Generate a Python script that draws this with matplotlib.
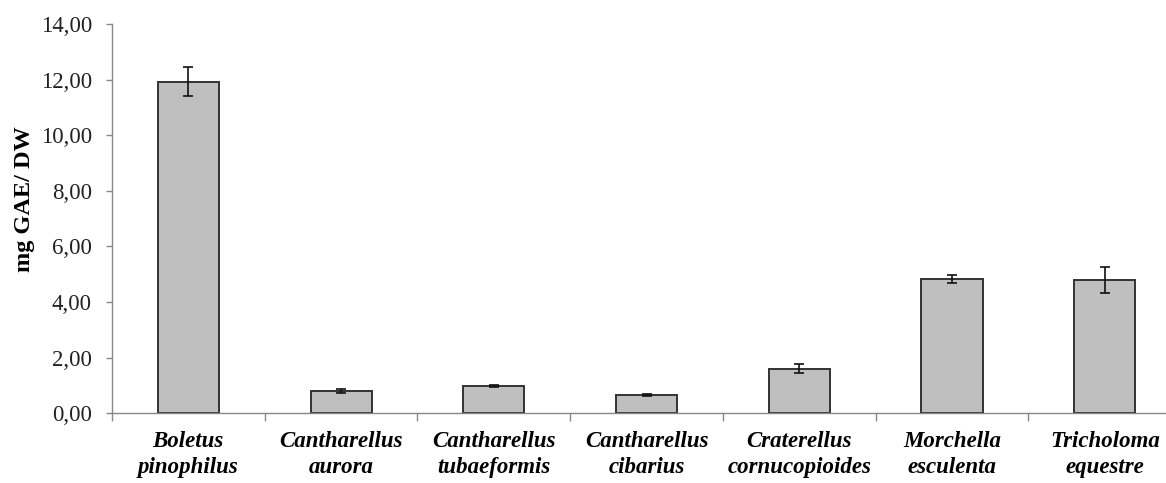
import matplotlib
matplotlib.use('Agg')
import matplotlib.pyplot as plt
import numpy as np
from matplotlib.ticker import FuncFormatter

# species names (two lines each) and measured values
species = ["Boletus\npinophilus", "Cantharellus\naurora", "Cantharellus\ntubaeformis",
           "Cantharellus\ncibarius", "Craterellus\ncornucopioides", "Morchella\nesculenta",
           "Tricholoma\nequestre"]
values = [11.93, 0.80, 0.99, 0.66, 1.61, 4.82, 4.79]
errors = [0.51, 0.07, 0.03, 0.02, 0.15, 0.15, 0.46]
yticks = [0, 2, 4, 6, 8, 10, 12, 14]

plt.rcParams['font.family'] = 'Liberation Serif'

fig = plt.figure(figsize=(11.66, 4.83), dpi=100)
# axis runs off the right edge like in the original
ax = fig.add_axes([0.096, 0.1443, 0.917, 0.806])

x = np.arange(len(species))
ax.bar(x, values, width=0.40, color='#bfbfbf', edgecolor='#333333', linewidth=1.4, zorder=2)
ax.errorbar(x, values, yerr=errors, fmt='none', ecolor='#111111', elinewidth=1.2,
            capsize=3.5, capthick=1.2, zorder=3)

ax.set_xlim(-0.5, len(species) - 0.5)
ax.set_ylim(0, 14)
ax.set_yticks(yticks)
ax.yaxis.set_major_formatter(FuncFormatter(lambda v, p: f"{v:.2f}".replace('.', ',')))

# ticks at category boundaries, labels at centres
ax.set_xticks(np.arange(len(species) + 1) - 0.5)
ax.set_xticklabels([])
ax.set_xticks(x, minor=True)
ax.set_xticklabels(species, minor=True, fontsize=16.5, fontweight='bold', style='italic',
                   linespacing=1.3)
ax.tick_params(axis='x', which='minor', length=0, pad=13)
ax.tick_params(axis='x', which='major', length=6, color='#888888', width=1)
ax.tick_params(axis='y', length=4.5, color='#888888', width=1, labelsize=16.5, pad=10,
               labelcolor='#222222')

for s in ['top', 'right']:
    ax.spines[s].set_visible(False)
for s in ['left', 'bottom']:
    ax.spines[s].set_color('#888888')
    ax.spines[s].set_linewidth(1)

ax.set_ylabel("mg GAE/ DW", fontsize=17.5, fontweight='bold')
ax.yaxis.set_label_coords(-0.072, 0.55)

plt.savefig("out.png", dpi=100)
plt.close()
